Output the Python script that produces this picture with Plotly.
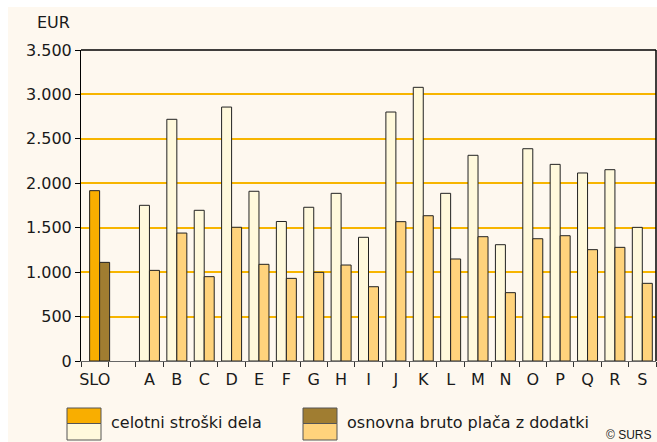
import plotly.graph_objects as go

# Kategorije (SLO, prazno mesto, dejavnosti A-S)
kategorije = ["SLO", " ", "A", "B", "C", "D", "E", "F", "G", "H", "I",
              "J", "K", "L", "M", "N", "O", "P", "Q", "R", "S"]

# Vrednosti v EUR, odčitane s slike
celotni_stroski = [1917, None, 1752, 2720, 1696, 2858, 1910, 1570, 1730, 1887, 1392,
                   2802, 3080, 1887, 2315, 1309, 2389, 2213, 2116, 2153, 1504]
bruto_placa = [1110, None, 1020, 1440, 949, 1505, 1088, 930, 998, 1080, 836,
               1568, 1635, 1148, 1399, 769, 1376, 1410, 1253, 1279, 874]

y_ticks = [0, 500, 1000, 1500, 2000, 2500, 3000, 3500]

legenda = ["celotni stroški dela", "osnovna bruto plača z dodatki"]

# Barve
ORANZNA = "#F9AE00"
RJAVA = "#A07D31"
SVETLA = "#FFF9DC"
BLEDO_ORANZNA = "#FFD37C"
OZADJE = "#FEF8EF"
MREZA = "#F7B500"

W, H = 657, 442
L, R, T, B = 81, 1, 50, 81


def px_x(x):
    return (x - L) / (W - L - R)


def px_y(y):
    return (H - B - y) / (H - T - B)


barve1 = [ORANZNA if k == "SLO" else SVETLA for k in kategorije]
barve2 = [RJAVA if k == "SLO" else BLEDO_ORANZNA for k in kategorije]

# širina stolpca in zamik (SLO je v izvirniku malo desno)
sirina = 0.365
zamik = [0.18 if k == "SLO" else 0 for k in kategorije]

fig = go.Figure()
fig.add_trace(go.Bar(
    x=kategorije, y=celotni_stroski, name=legenda[0],
    width=sirina, offset=[z - sirina for z in zamik],
    marker=dict(color=barve1, line=dict(color="#222222", width=1))
))
fig.add_trace(go.Bar(
    x=kategorije, y=bruto_placa, name=legenda[1],
    width=sirina, offset=zamik,
    marker=dict(color=barve2, line=dict(color="#222222", width=1))
))

font_osnova = dict(family="DejaVu Sans", size=16, color="#1a1a1a")

fig.update_layout(
    width=W, height=H,
    margin=dict(l=L, r=R, t=T, b=B),
    barmode="overlay",
    showlegend=False,
    separators=",.",
    paper_bgcolor="white",
    plot_bgcolor="rgba(0,0,0,0)",
    font=font_osnova,
    xaxis=dict(
        type="category",
        categoryorder="array", categoryarray=kategorije,
        range=[-0.5, len(kategorije) - 0.5],
        showline=True, linecolor="#666666", linewidth=1,
        ticks="outside", tickson="boundaries", ticklen=5, tickcolor="#333333",
        showgrid=False,
        tickangle=0,
        ticklabelstandoff=4,
        tickfont=font_osnova,
    ),
    yaxis=dict(
        range=[0, 3500],
        tickvals=y_ticks,
        tickformat=",d",
        showline=True, linecolor="black", linewidth=1,
        ticks="outside", ticklen=5, tickcolor="black",
        showgrid=True, gridcolor=MREZA, gridwidth=1.5,
        zeroline=False,
        tickfont=font_osnova,
    ),
)

oblike = [
    # kremno ozadje (bel rob levo in zgoraj)
    dict(type="rect", xref="paper", yref="paper", layer="below",
         x0=px_x(8), x1=px_x(W), y0=px_y(H), y1=px_y(7),
         fillcolor=OZADJE, line=dict(width=0)),
    # zgornji in desni rob grafa
    dict(type="line", xref="paper", yref="paper", x0=0, x1=1, y0=1, y1=1,
         line=dict(color="black", width=1.5)),
    dict(type="line", xref="paper", yref="paper", x0=1, x1=1, y0=0, y1=1,
         line=dict(color="black", width=1.5)),
]

# legenda: dvojni kvadratki
for x0, zg, sp in [(67, ORANZNA, SVETLA), (303, RJAVA, BLEDO_ORANZNA)]:
    oblike.append(dict(type="rect", xref="paper", yref="paper",
                       x0=px_x(x0), x1=px_x(x0 + 34), y0=px_y(423.5), y1=px_y(408),
                       fillcolor=zg, line=dict(color="#555555", width=1)))
    oblike.append(dict(type="rect", xref="paper", yref="paper",
                       x0=px_x(x0), x1=px_x(x0 + 34), y0=px_y(440), y1=px_y(423.5),
                       fillcolor=sp, line=dict(color="#555555", width=1)))

fig.update_layout(shapes=oblike)

fig.add_annotation(text="EUR", xref="paper", yref="paper",
                   x=px_x(72), y=px_y(22), xanchor="right", yanchor="middle",
                   showarrow=False, font=font_osnova)
fig.add_annotation(text=legenda[0], xref="paper", yref="paper",
                   x=px_x(109), y=px_y(422), xanchor="left", yanchor="middle",
                   showarrow=False, font=font_osnova)
fig.add_annotation(text=legenda[1], xref="paper", yref="paper",
                   x=px_x(345), y=px_y(422), xanchor="left", yanchor="middle",
                   showarrow=False, font=font_osnova)
fig.add_annotation(text="© SURS", xref="paper", yref="paper",
                   x=px_x(654), y=px_y(435), xanchor="right", yanchor="middle",
                   showarrow=False,
                   font=dict(family="Liberation Sans", size=12, color="#1a1a1a"))

# stran brez roba in drsnikov
fig.write_html(
    "out.html",
    config={"displayModeBar": False},
    post_script="document.body.style.margin='0';"
                "document.documentElement.style.overflow='hidden';"
                "document.body.style.overflow='hidden';",
)
